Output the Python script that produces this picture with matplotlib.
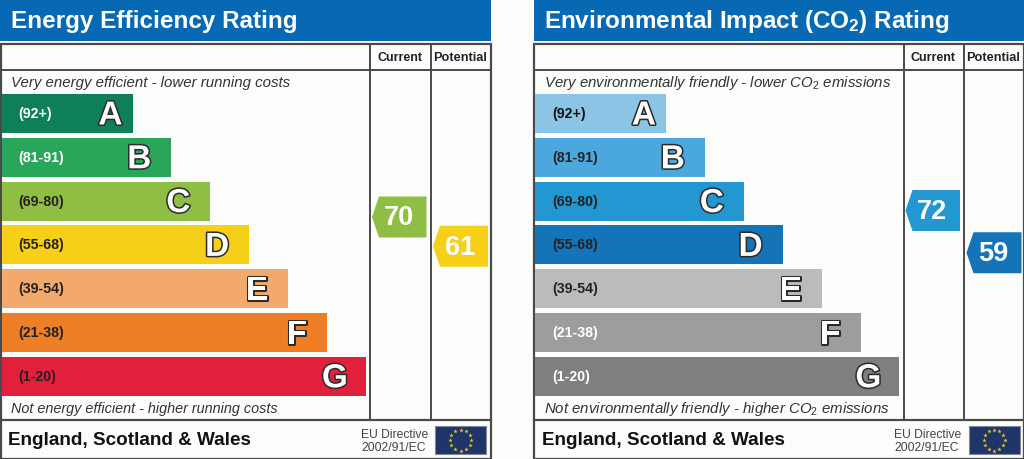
import numpy as np
import matplotlib
matplotlib.use("Agg")
import matplotlib.pyplot as plt
import matplotlib.patheffects as pe
from matplotlib.patches import Rectangle, Polygon

plt.rcParams['font.family'] = ['Liberation Sans', 'DejaVu Sans']
plt.rcParams['mathtext.fontset'] = 'custom'
plt.rcParams['mathtext.rm'] = 'Liberation Sans'
plt.rcParams['mathtext.it'] = 'Liberation Sans:italic'
plt.rcParams['mathtext.bf'] = 'Liberation Sans:bold'

letters = ["A", "B", "C", "D", "E", "F", "G"]
ranges = ["(92+)", "(81-91)", "(69-80)", "(55-68)", "(39-54)", "(21-38)", "(1-20)"]

energy_colors = ["#0f7f57", "#2aa65a", "#8fbe44", "#f6cf18", "#f3a96b", "#ee7f26", "#e3203b"]
env_colors = ["#8cc4e6", "#4aa8dc", "#2397d1", "#1573b8", "#bbbbb9", "#9d9d9f", "#7f7f81"]
energy_text = ["white", "white", "#222222", "#222222", "#222222", "#222222", "#222222"]
env_text = ["#111111", "#222222", "#222222", "#222222", "#222222", "white", "white"]

energy_current, energy_potential = 70, 61
env_current, env_potential = 72, 59

BLUE = "#0769b3"
LINE = "#4a4a4c"

fig = plt.figure(figsize=(10.24, 4.6), dpi=100, facecolor="#fdfdfb")
ax = fig.add_axes([0, 0, 1, 1])
ax.set_xlim(0, 1024)
ax.set_ylim(460, 0)
ax.axis("off")


def score_y(score):
    # arrow height on the scale, fitted by eye to the four arrows
    return 218 + (70 - score) * 3.25


def arrow(x_left, x_right, score, color):
    y = score_y(score)
    pts = [(x_left, y), (x_left + 7, y - 20.5), (x_right, y - 20.5),
           (x_right, y + 20.5), (x_left + 7, y + 20.5)]
    ax.add_patch(Polygon(pts, closed=True, fc=color, ec="none", zorder=3))
    ax.text((x_left + x_right) / 2 - 0.5, y + 0.5, str(score), color="white", fontsize=19.5,
            fontweight="bold", ha="center", va="center", zorder=4)


def panel(x0, title, top_note, bottom_note, top_size, bottom_size, colors, text_colors, current, potential):
    # header
    ax.add_patch(Rectangle((x0, 0), 491, 41.5, fc=BLUE, ec="none"))
    ax.text(x0 + 11, 21.5, title, color="white", fontsize=17.5, fontweight="bold",
            ha="left", va="center")

    # frame
    ax.add_patch(Rectangle((x0 + 0.5, 45), 490, 414.5, fc="#fdfdfb", ec=LINE, lw=1.6, zorder=2))
    ax.plot([x0, x0 + 491], [70.5, 70.5], color=LINE, lw=1.4, zorder=2)
    ax.plot([x0, x0 + 491], [421, 421], color=LINE, lw=1.6, zorder=2)
    ax.plot([x0 + 370, x0 + 370], [45, 421], color=LINE, lw=1.4, zorder=2)
    ax.plot([x0 + 430.5, x0 + 430.5], [45, 421], color=LINE, lw=1.4, zorder=2)

    ax.text(x0 + 399.5, 58, "Current", color="#222222", fontsize=9, fontweight="bold",
            ha="center", va="center", zorder=4)
    ax.text(x0 + 460, 58, "Potential", color="#222222", fontsize=9.2, fontweight="bold",
            ha="center", va="center", zorder=4)

    ax.text(x0 + 11, 82.5, top_note, color="#333333", fontsize=top_size, style="italic",
            ha="left", va="center", zorder=4)
    ax.text(x0 + 11, 409, bottom_note, color="#333333", fontsize=bottom_size, style="italic",
            ha="left", va="center", zorder=4)

    # bands
    for i, letter in enumerate(letters):
        top = 95 + i * 43.8
        right = 132.5 + i * 38.9
        ax.add_patch(Rectangle((x0 + 1.5, top), right - 1.5, 39, fc=colors[i], ec="none", zorder=3))
        ax.text(x0 + 18.5, top + 19, ranges[i], color=text_colors[i], fontsize=10.2,
                fontweight="bold", ha="left", va="center", zorder=4)
        pad = 10 if i == 0 else 20
        if letter == "G":
            pad = 18
        t = ax.text(x0 + right - pad, top + 22, letter, color="white", fontsize=24,
                    fontweight="bold", ha="right", va="center", zorder=5)
        t.set_path_effects([pe.withStroke(linewidth=2.2, foreground="#2b2b2b")])

    arrow(x0 + 372, x0 + 426.5, current, colors[2])
    arrow(x0 + 433, x0 + 488, potential, colors[3])

    # footer
    ax.text(x0 + 8, 441, "England, Scotland & Wales", color="#111111", fontsize=13.6,
            fontweight="bold", ha="left", va="center", zorder=4)
    ax.text(x0 + 361, 435, "EU Directive", color="#444444", fontsize=8.7, ha="left", va="center", zorder=4)
    ax.text(x0 + 361, 448, "2002/91/EC", color="#444444", fontsize=8.7, ha="left", va="center", zorder=4)

    # flag
    ax.add_patch(Rectangle((x0 + 435, 427), 51, 28, fc="#1f3468", ec="#7f8798", lw=0.8, zorder=3))
    angles = np.arange(12) * np.pi / 6
    ax.scatter(x0 + 460.5 + 10.5 * np.cos(angles), 441 + 10.5 * np.sin(angles), marker="*",
               s=11, color="#f2c81e", linewidths=0, zorder=4)


panel(0, "Energy Efficiency Rating", "Very energy efficient - lower running costs",
      "Not energy efficient - higher running costs", 10.83, 10.37, energy_colors, energy_text,
      energy_current, energy_potential)
panel(533.5, r"Environmental Impact (CO$_\mathbf{2}$) Rating",
      r"Very environmentally friendly - lower CO$_\mathit{2}$ emissions",
      r"Not environmentally friendly - higher CO$_\mathit{2}$ emissions", 10.84, 10.85, env_colors, env_text,
      env_current, env_potential)

fig.savefig("out.png", dpi=100, facecolor=fig.get_facecolor())
